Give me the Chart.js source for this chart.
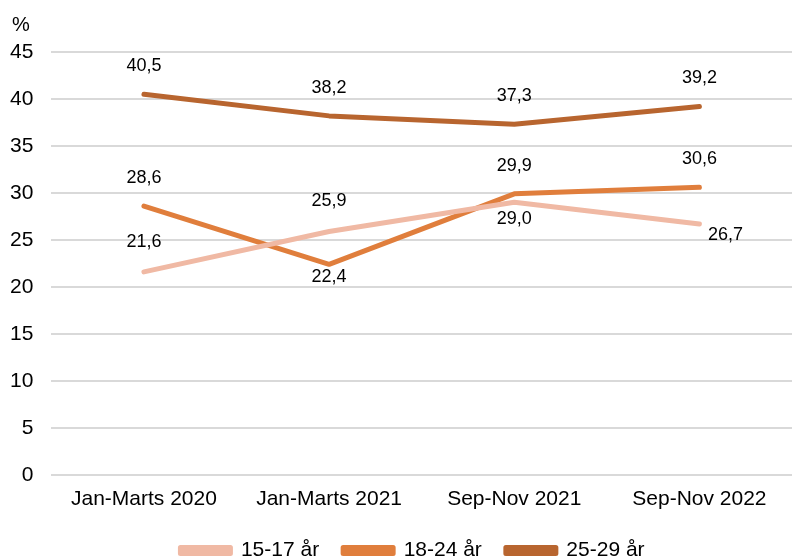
<!DOCTYPE html>
<html>
<head>
<meta charset="utf-8">
<script src="https://cdn.jsdelivr.net/npm/chart.js@4/dist/chart.umd.min.js"></script>
<style>
  html, body { margin: 0; padding: 0; background: #fff; }
  #wrap { width: 792px; height: 559px; position: relative; }
</style>
</head>
<body>
<div id="wrap"><canvas id="chart" width="792" height="559"></canvas></div>
<script>
const categories = ['Jan-Marts 2020', 'Jan-Marts 2021', 'Sep-Nov 2021', 'Sep-Nov 2022'];
const seriesNames = ['15-17 år', '18-24 år', '25-29 år'];
const age15to17 = [21.6, 25.9, 29.0, 26.7];
const age18to24 = [28.6, 22.4, 29.9, 30.6];
const age25to29 = [40.5, 38.2, 37.3, 39.2];
const yTicks = [0, 5, 10, 15, 20, 25, 30, 35, 40, 45];

// where each value label sits relative to its point (dx, dy in px)
const labelOffsets = [
    [[0, -30], [0, -30], [0, 17], [26, 11]],
    [[0, -28], [0, 13], [0, -28], [0, -28]],
    [[0, -28], [0, -28], [0, -28], [0, -28]]
];

const FONT = 'Liberation Sans, Arial, sans-serif';

const valueLabels = {
    id: 'valueLabels',
    afterLayout(chart) {
        // legend in the original sits a bit right of centre
        chart.legend.left += 19;
        chart.legend.right += 19;
    },
    afterDatasetsDraw(chart) {
        const ctx = chart.ctx;
        ctx.save();
        ctx.font = '18px ' + FONT;
        ctx.fillStyle = '#000';
        ctx.textAlign = 'center';
        ctx.textBaseline = 'middle';
        chart.data.datasets.forEach((ds, i) => {
            chart.getDatasetMeta(i).data.forEach((pt, j) => {
                const [dx, dy] = labelOffsets[i][j];
                ctx.fillText(ds.data[j].toFixed(1).replace('.', ','), pt.x + dx, pt.y + dy);
            });
        });
        ctx.font = '20px ' + FONT;
        ctx.textAlign = 'left';
        ctx.fillText('%', 12, 25);
        ctx.restore();
    }
};

new Chart(document.getElementById('chart').getContext('2d'), {
    type: 'line',
    data: {
        labels: categories,
        datasets: [
            { label: seriesNames[0], data: age15to17, borderColor: '#F0B9A4', backgroundColor: '#F0B9A4' },
            { label: seriesNames[1], data: age18to24, borderColor: '#E07E3C', backgroundColor: '#E07E3C' },
            { label: seriesNames[2], data: age25to29, borderColor: '#B8652F', backgroundColor: '#B8652F' }
        ].map(d => Object.assign(d, { borderWidth: 5, pointRadius: 0, tension: 0, borderCapStyle: 'round', borderJoinStyle: 'round', borderRadius: 3 }))
    },
    options: {
        responsive: false,
        animation: false,
        layout: { padding: { top: 52, right: -3, left: -8, bottom: -12 } },
        scales: {
            x: {
                offset: true,
                grid: { display: false },
                border: { display: false },
                ticks: { color: '#000', font: { family: FONT, size: 21 }, padding: 4, maxRotation: 0 }
            },
            y: {
                min: 0, max: 45,
                afterBuildTicks: axis => { axis.ticks = yTicks.map(v => ({ value: v })); },
                grid: { color: '#d9d9d9', lineWidth: 2, drawTicks: false },
                border: { display: false },
                ticks: { color: '#000', font: { family: FONT, size: 21 }, padding: 18 }
            }
        },
        plugins: {
            legend: {
                position: 'bottom',
                labels: {
                    color: '#000',
                    font: { family: FONT, size: 21 },
                    boxWidth: 50, boxHeight: 6,
                    useBorderRadius: true,
                    padding: 24
                }
            },
            tooltip: { enabled: false }
        }
    },
    plugins: [valueLabels]
});
</script>
</body>
</html>
